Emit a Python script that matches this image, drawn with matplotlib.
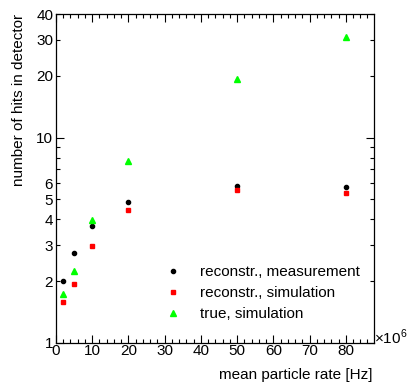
import numpy as np
import matplotlib
matplotlib.use("Agg")
import matplotlib.pyplot as plt
from matplotlib.ticker import FixedLocator, FixedFormatter

matplotlib.rcParams["font.family"] = ["Liberation Sans", "DejaVu Sans"]
matplotlib.rcParams["mathtext.fontset"] = "custom"
matplotlib.rcParams["mathtext.rm"] = "Liberation Sans"
matplotlib.rcParams["font.size"] = 11

# mean particle rate in units of 1e6 Hz
rate = [2, 5, 10, 20, 50, 80]
hits_meas = [2.0, 2.73, 3.72, 4.84, 5.80, 5.74]
hits_reco_sim = [1.58, 1.94, 2.96, 4.42, 5.55, 5.38]
hits_true_sim = [1.74, 2.24, 3.95, 7.70, 19.3, 31.0]

y_major = [1, 10]
y_minor = [2, 3, 4, 5, 6, 7, 8, 9, 20, 30, 40]
y_minor_labels = ["2", "3", "4", "5", "6", "", "", "", "20", "30", "40"]

fig = plt.figure(figsize=(4.08, 3.82), dpi=100)
ax = fig.add_axes([56 / 408, 39 / 382, 318 / 408, 329 / 382])

ax.plot(rate, hits_meas, "o", color="black", ms=3.0, label="reconstr., measurement")
ax.plot(rate, hits_reco_sim, "s", color="#ff0000", ms=3.4, label="reconstr., simulation")
ax.plot(rate, hits_true_sim, "^", color="#00ff00", ms=4.2, label="true, simulation")

ax.set_yscale("log")
ax.set_xlim(0, 87.8)
ax.set_ylim(1, 40)

ax.set_xticks(np.arange(0, 81, 10))
ax.set_xticks(np.arange(0, 88, 2), minor=True)
ax.yaxis.set_major_locator(FixedLocator(y_major))
ax.yaxis.set_major_formatter(FixedFormatter(["1", "10"]))
ax.yaxis.set_minor_locator(FixedLocator(y_minor))
ax.yaxis.set_minor_formatter(FixedFormatter(y_minor_labels))

for sp in ax.spines.values():
    sp.set_linewidth(0.9)
ax.tick_params(which="both", direction="in", top=True, right=True, width=0.8,
               labelsize=11, pad=2)
ax.tick_params(which="major", length=6)
ax.tick_params(which="minor", length=3)
ax.tick_params(axis="x", which="major", pad=1)

ax.set_xlabel("mean particle rate [Hz]", ha="right", x=1.0, fontsize=11)
ax.set_ylabel("number of hits in detector", ha="right", y=1.0, fontsize=11)
ax.xaxis.set_label_coords(316 / 318, -25 / 329)
ax.yaxis.set_label_coords(-30 / 318, 1.0)

fig.text(374 / 408, (382 - 337) / 382, r"$\times10^{6}$", fontsize=11,
         ha="left", va="center")

ax.legend(loc="upper left", bbox_to_anchor=(165 / 408, (382 - 265) / 382),
          bbox_transform=fig.transFigure, frameon=False, numpoints=1,
          handlelength=1.0, handletextpad=1.3, borderpad=0, borderaxespad=0,
          labelspacing=0.47, fontsize=11)

fig.savefig("out.png", dpi=100)
